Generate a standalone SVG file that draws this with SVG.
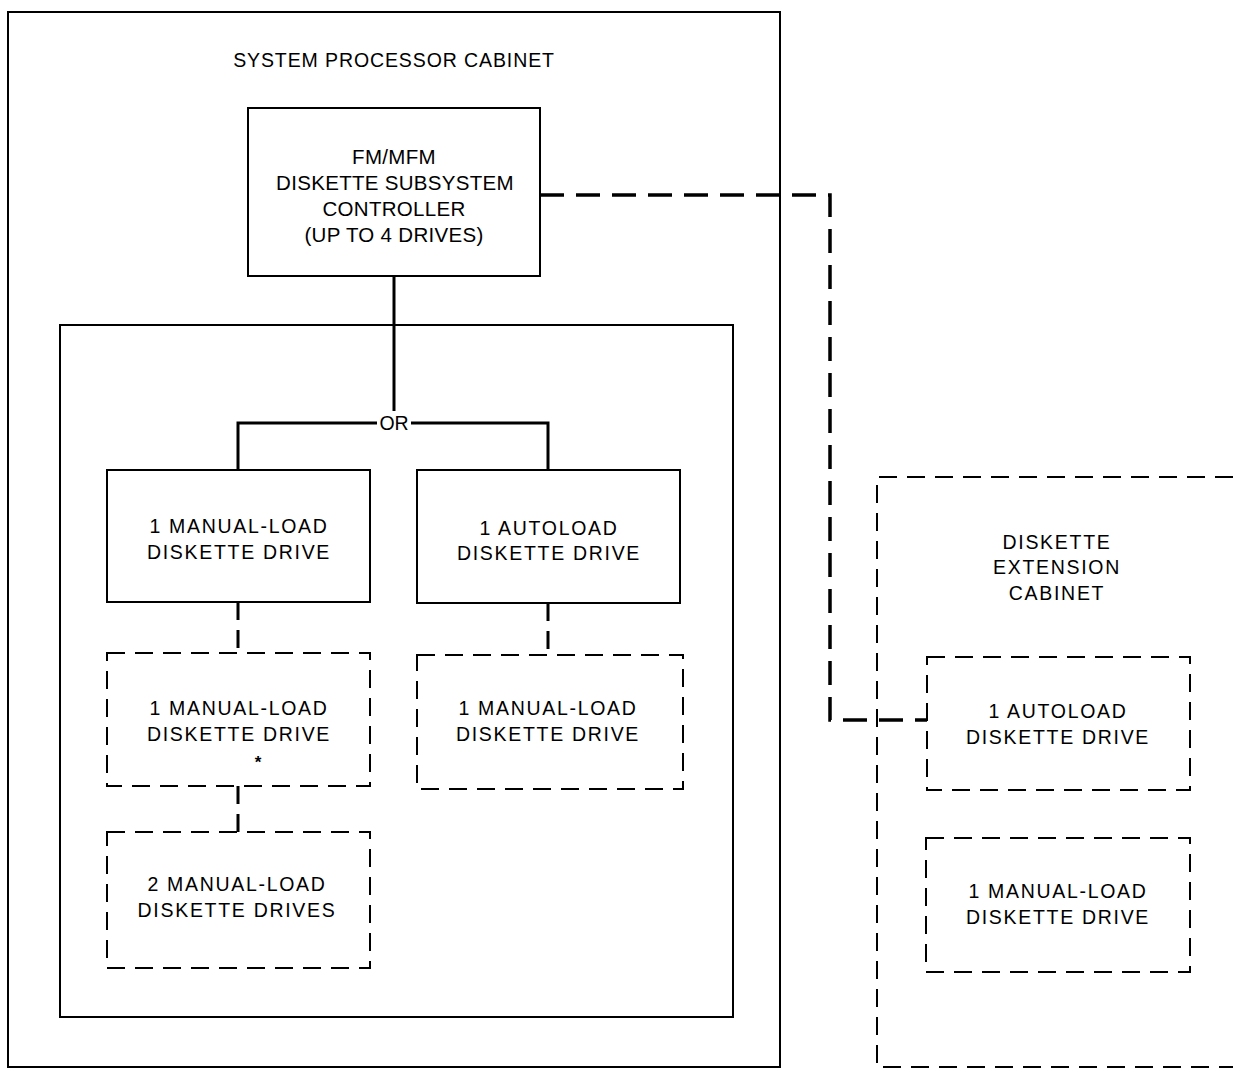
<svg xmlns="http://www.w3.org/2000/svg" width="1233" height="1070" viewBox="0 0 1233 1070">
<style>
.t{font-family:"Liberation Sans",Arial,sans-serif;font-size:19.5px;fill:#000;text-anchor:middle}
.w{letter-spacing:1.7px}
.c{font-size:20.5px;letter-spacing:0.3px}
.solid{fill:none;stroke:#000;stroke-width:2}
.dbox{fill:none;stroke:#000;stroke-width:2;stroke-dasharray:18 10}
.conn{fill:none;stroke:#000;stroke-width:3}
.dconn{fill:none;stroke:#000;stroke-width:3;stroke-dasharray:18 10}
.big{fill:none;stroke:#000;stroke-width:3.5;stroke-dasharray:24 12}
</style>
<rect width="1233" height="1070" fill="#fff"/>
<g id="system-processor-cabinet">
<rect class="solid" x="8" y="12" width="772" height="1055"/>
<text class="t" x="394" y="67" style="letter-spacing:0.9px">SYSTEM PROCESSOR CABINET</text>
</g>
<g id="inner-group">
<rect class="solid" x="60" y="325" width="673" height="692"/>
</g>
<g id="controller">
<rect class="solid" x="248" y="108" width="292" height="168"/>
<text class="t c" x="394" y="164">FM/MFM</text>
<text class="t c" x="395" y="190">DISKETTE SUBSYSTEM</text>
<text class="t c" x="394" y="216">CONTROLLER</text>
<text class="t c" x="394" y="242">(UP TO 4 DRIVES)</text>
</g>
<g id="manual1">
<rect class="solid" x="107" y="470" width="263" height="132"/>
<text class="t w" x="239" y="533">1 MANUAL-LOAD</text>
<text class="t w" x="239" y="559">DISKETTE DRIVE</text>
</g>
<g id="autoload1">
<rect class="solid" x="417" y="470" width="263" height="133"/>
<text class="t w" x="549" y="535">1 AUTOLOAD</text>
<text class="t w" x="549" y="560">DISKETTE DRIVE</text>
</g>
<g id="manual2">
<rect class="dbox" x="107" y="653" width="263" height="133"/>
<text class="t w" x="239" y="715">1 MANUAL-LOAD</text>
<text class="t w" x="239" y="741">DISKETTE DRIVE</text>
<text class="t" x="258" y="768" style="font-size:17px;font-weight:bold">*</text>
</g>
<g id="manual3">
<rect class="dbox" x="107" y="832" width="263" height="136"/>
<text class="t w" x="237" y="891">2 MANUAL-LOAD</text>
<text class="t w" x="237" y="917">DISKETTE DRIVES</text>
</g>
<g id="manual4">
<rect class="dbox" x="417" y="655" width="266" height="134"/>
<text class="t w" x="548" y="715">1 MANUAL-LOAD</text>
<text class="t w" x="548" y="741">DISKETTE DRIVE</text>
</g>
<g id="extension-cabinet">
<path class="dbox" d="M1233,477 H877 V1067 H1233"/>
<text class="t w" x="1057" y="549">DISKETTE</text>
<text class="t w" x="1057" y="574">EXTENSION</text>
<text class="t w" x="1057" y="600">CABINET</text>
</g>
<g id="ext-autoload">
<rect class="dbox" x="927" y="657" width="263" height="133"/>
<text class="t w" x="1058" y="718">1 AUTOLOAD</text>
<text class="t w" x="1058" y="744">DISKETTE DRIVE</text>
</g>
<g id="ext-manual">
<rect class="dbox" x="926" y="838" width="264" height="134"/>
<text class="t w" x="1058" y="898">1 MANUAL-LOAD</text>
<text class="t w" x="1058" y="924">DISKETTE DRIVE</text>
</g>
<g id="connectors">
<path class="conn" d="M394,276 V411"/>
<path class="conn" d="M238,470 V423 H377"/>
<path class="conn" d="M411,423 H548 V470"/>
<text class="t" x="394" y="430">OR</text>
<path class="dconn" d="M238,602 V653"/>
<path class="dconn" d="M238,786 V832"/>
<path class="dconn" d="M548,603 V655"/>
<path class="big" d="M540,195 H830 V720 H927"/>
</g>
</svg>
